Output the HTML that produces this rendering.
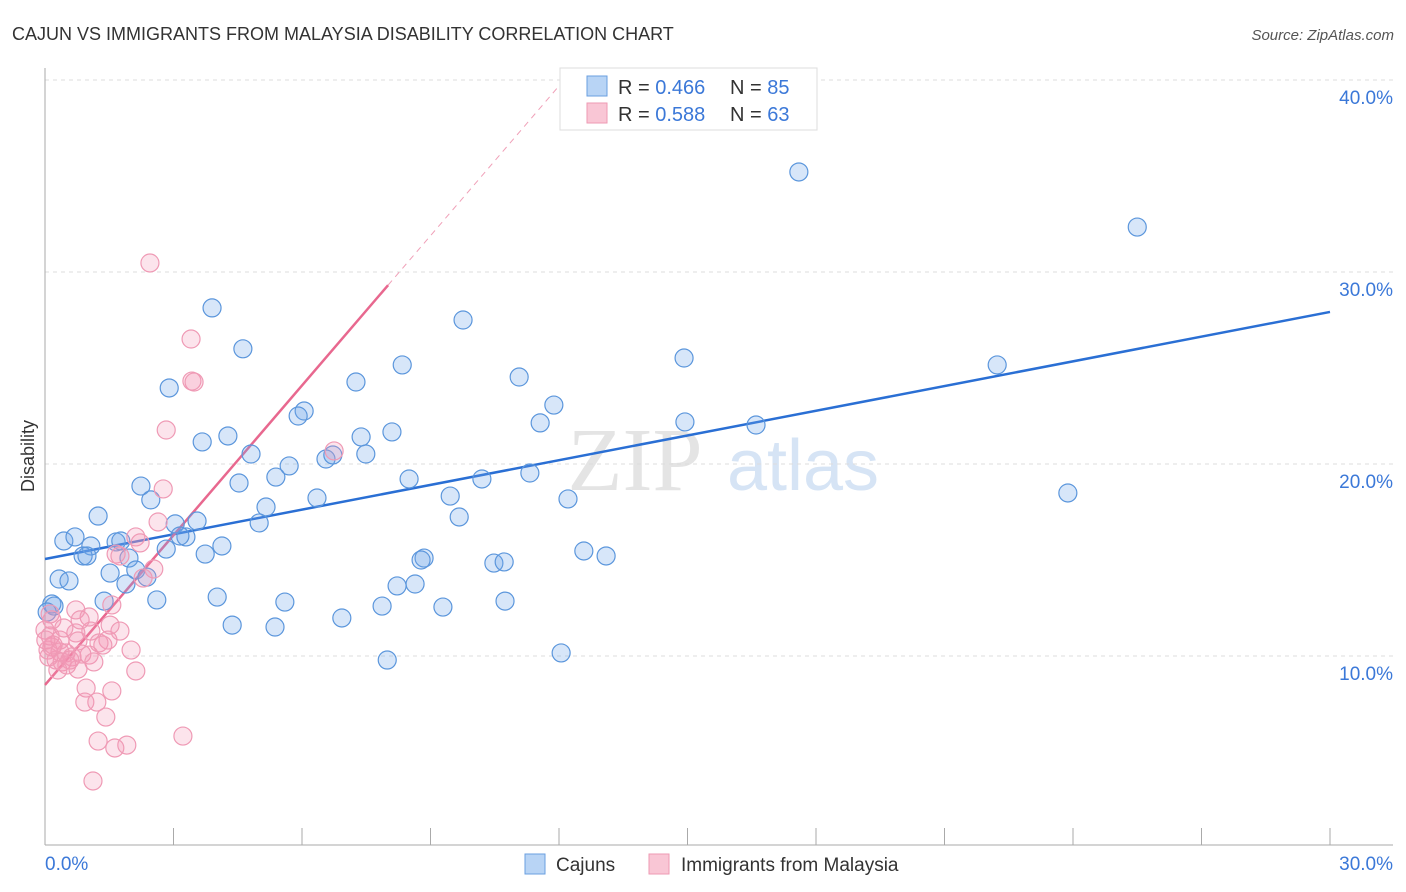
<!DOCTYPE html>
<html><head><meta charset="utf-8"><style>
body{margin:0;background:#fff;font-family:"Liberation Sans",sans-serif;}
svg{display:block}
</style></head><body>
<svg id="chart" width="1406" height="892" xmlns="http://www.w3.org/2000/svg">
<text x="12" y="40" font-size="18" fill="#333">CAJUN VS IMMIGRANTS FROM MALAYSIA DISABILITY CORRELATION CHART</text>
<text x="1394" y="40" font-size="15" fill="#555" font-style="italic" text-anchor="end">Source: ZipAtlas.com</text>
<text x="34" y="456" font-size="18" fill="#333" text-anchor="middle" transform="rotate(-90 34 456)">Disability</text>
<g><text x="635" y="490" font-size="90" fill="#e4e4e4" font-family="Liberation Serif,serif" text-anchor="middle">ZIP</text><text x="803" y="490" font-size="72" fill="#d6e4f5" text-anchor="middle">atlas</text></g>
<g id="grid"></g><g id="axes"></g><g id="trend"></g><g id="pts"></g>
<g>
<rect x="560" y="68" width="257" height="62" fill="#fff" stroke="#ddd"/>
<rect x="587" y="76" width="20" height="20" fill="#b8d4f5" stroke="#6a9fe0"/>
<text x="618" y="94" font-size="20" fill="#333">R = <tspan fill="#3b78d8">0.466</tspan></text>
<text x="730" y="94" font-size="20" fill="#333">N = <tspan fill="#3b78d8">85</tspan></text>
<rect x="587" y="103" width="20" height="20" fill="#f9c6d5" stroke="#ee9ab3"/>
<text x="618" y="121" font-size="20" fill="#333">R = <tspan fill="#3b78d8">0.588</tspan></text>
<text x="730" y="121" font-size="20" fill="#333">N = <tspan fill="#3b78d8">63</tspan></text>
</g>
<g>
<rect x="525" y="854" width="20" height="20" fill="#b8d4f5" stroke="#6a9fe0"/>
<text x="556" y="871" font-size="19" fill="#333">Cajuns</text>
<rect x="649" y="854" width="20" height="20" fill="#f9c6d5" stroke="#ee9ab3"/>
<text x="681" y="871" font-size="19" fill="#333">Immigrants from Malaysia</text>
</g>
</svg>
<script>
const blueX=[17.60,25.50,3.90,9.76,4.62,14.92,8.34,22.23,2.90,7.26,11.07,11.88,6.05,5.91,11.56,14.94,16.60,4.27,3.67,7.38,8.10,4.81,7.49,6.56,6.72,5.70,5.39,11.32,8.50,10.20,4.53,2.24,2.47,6.35,9.46,23.88,12.21,5.16,1.24,9.67,5.00,3.55,3.04,3.29,3.15,0.44,0.70,1.07,1.66,1.77,4.13,2.83,3.74,0.89,0.98,1.96,12.58,13.10,8.85,8.78,10.48,10.72,2.12,1.52,2.38,0.33,0.56,1.89,8.22,8.64,2.61,1.38,4.02,5.60,0.16,0.21,7.87,9.29,10.74,6.93,4.37,5.37,12.05,7.99,0.05];
const blueY=[35.21,32.34,28.13,27.50,26.0,25.52,25.16,25.16,23.96,24.27,24.53,23.07,22.76,22.5,22.14,22.19,22.03,21.46,21.15,21.41,21.67,20.52,20.52,20.26,20.47,19.90,19.32,19.53,19.22,19.22,19.01,18.85,18.13,18.23,18.33,18.49,18.18,17.76,17.29,17.24,16.93,17.03,16.88,16.20,16.25,15.99,16.20,15.73,15.94,15.99,15.73,15.57,15.31,15.21,15.21,15.10,15.47,15.21,15.10,15.0,14.84,14.90,14.48,14.32,14.11,14.01,13.91,13.75,13.65,13.75,12.92,12.86,13.07,12.81,12.71,12.60,12.60,12.55,12.86,11.98,11.61,11.51,10.16,9.79,12.29];
const pinkX=[2.45,3.41,3.43,3.48,2.83,2.76,6.75,2.64,2.12,2.22,1.66,1.75,2.54,2.29,1.56,0.72,1.03,0.12,0.16,1.75,1.07,0.72,0.00,0.12,0.35,0.77,1.47,1.26,1.35,2.01,0.07,0.16,0.35,0.49,0.63,0.86,1.03,0.26,0.40,0.51,0.77,1.14,2.12,0.09,0.19,1.56,0.96,0.93,1.21,1.42,3.22,1.24,1.91,1.63,1.12,0.02,0.58,0.30,0.82,0.44,1.52];
const pinkY=[30.47,26.51,24.32,24.27,21.77,18.70,20.68,16.98,16.20,15.89,15.31,15.21,14.53,14.06,12.66,12.40,12.03,12.19,11.88,11.30,11.30,11.20,11.35,11.04,10.83,10.78,10.83,10.68,10.57,10.31,10.31,10.47,10.21,10.16,9.95,10.10,10.05,9.79,9.69,9.53,9.32,9.69,9.22,9.95,10.57,8.18,8.33,7.60,7.60,6.82,5.83,5.57,5.36,5.21,3.49,10.83,9.79,9.27,11.88,11.46,11.61];
const blueTrend=[15.05,27.92]; // y at x=0 and x=30
const pinkTrend=[8.49,2.60];   // intercept, slope
const pinkSolidEnd=8.01;
const yTicks=[10,20,30,40];
const yTickLabels=["10.0%","20.0%","30.0%","40.0%"];
const xTicks=[0,3,6,9,12,15,18,21,24,27,30];
const NS="http://www.w3.org/2000/svg";
const X0=45,X1=1330,Y0=848,PPY=19.2;
const sx=v=>X0+(X1-X0)*v/30, sy=v=>Y0-v*PPY;
function mk(parent,tag,attrs){const e=document.createElementNS(NS,tag);for(const k in attrs)e.setAttribute(k,attrs[k]);document.getElementById(parent).appendChild(e);return e;}
yTicks.forEach((t,i)=>{
 const l=mk('grid','line',{x1:X0,x2:1393,y1:sy(t),y2:sy(t),stroke:'#ddd','stroke-dasharray':'4,4'});
 
 
 const tx=mk('grid','text',{x:1393,y:sy(t)+24,'font-size':19,fill:'#3b78d8','text-anchor':'end'});
 tx.textContent=yTickLabels[i];
 
 
});
const ax=mk('axes','line',{x1:X0,x2:X0,y1:68,y2:845,stroke:'#aaa'});


const bx=mk('axes','line',{x1:X0,x2:1393,y1:845,y2:845,stroke:'#aaa'});


xTicks.forEach(t=>{
 const l=mk('axes','line',{x1:sx(t),x2:sx(t),y1:828,y2:845,stroke:'#aaa'});
 
 
});
const xl0=mk('axes','text',{x:45,y:870,'font-size':19,fill:'#3b78d8'});xl0.textContent=xTicks[0].toFixed(1)+'%';


const xl1=mk('axes','text',{x:1393,y:870,'font-size':19,fill:'#3b78d8','text-anchor':'end'});xl1.textContent=xTicks[xTicks.length-1].toFixed(1)+'%';


function dot(x,y,fill,stroke,name){const c=mk('pts','circle',{cx:sx(x),cy:sy(y),r:9,fill:fill,stroke:stroke,'stroke-width':1.2});
 
 }
blueX.forEach((x,i)=>dot(x,blueY[i],'rgba(110,165,235,0.28)','#5b96dc','cajun-point'));
pinkX.forEach((x,i)=>dot(x,pinkY[i],'rgba(245,150,180,0.26)','#ef9ab5','malaysia-point'));
const bt=mk('trend','line',{x1:sx(0),y1:sy(blueTrend[0]),x2:sx(30),y2:sy(blueTrend[1]),stroke:'#2a6fd4','stroke-width':2.5});


const pf=x=>pinkTrend[0]+pinkTrend[1]*x;
const pt=mk('trend','line',{x1:sx(0),y1:sy(pf(0)),x2:sx(pinkSolidEnd),y2:sy(pf(pinkSolidEnd)),stroke:'#e8688f','stroke-width':2.5});


const xe=(40-pinkTrend[0])/pinkTrend[1];
const pd=mk('trend','line',{x1:sx(pinkSolidEnd),y1:sy(pf(pinkSolidEnd)),x2:sx(xe),y2:sy(40),stroke:'#f0a0b8','stroke-width':1,'stroke-dasharray':'6,5'});


</script>
</body></html>
